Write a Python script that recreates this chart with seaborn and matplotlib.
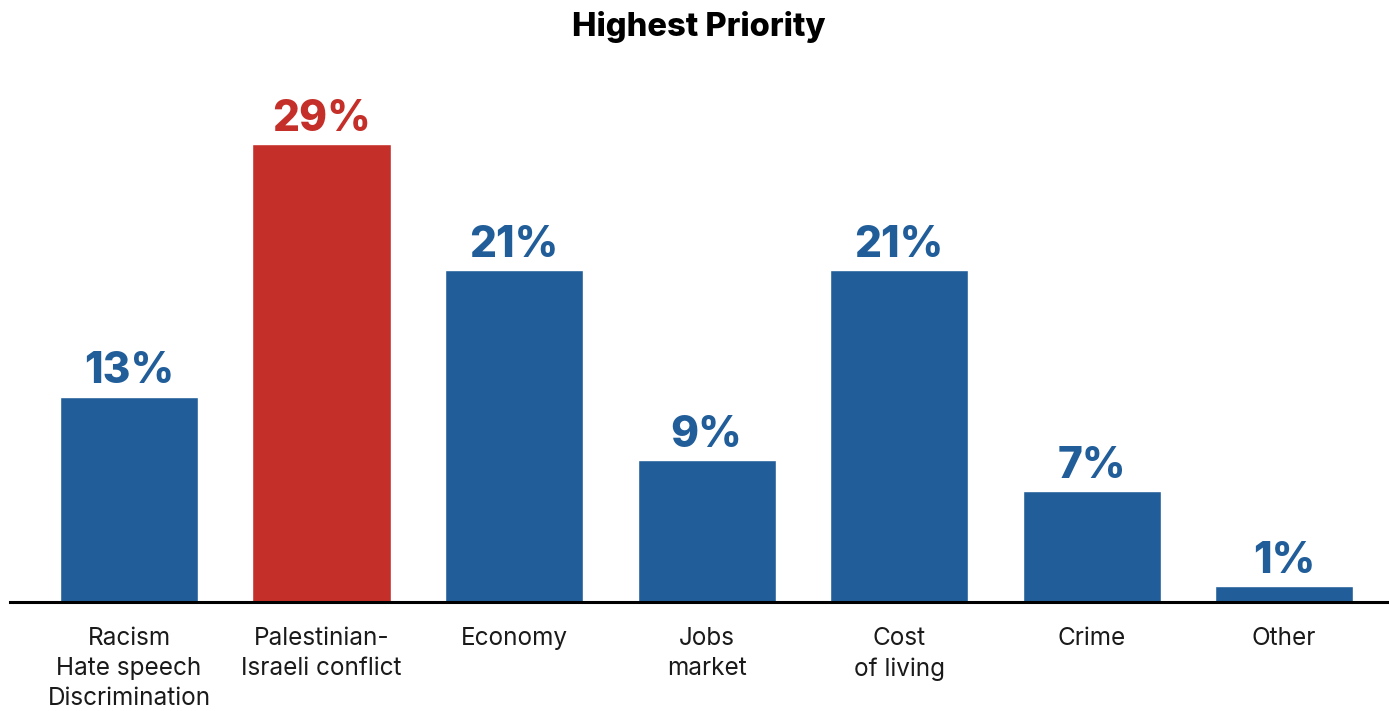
import matplotlib
matplotlib.use('Agg')
import matplotlib.pyplot as plt
import seaborn as sns
import pandas as pd

# dane z wykresu
categories = ['Racism\nHate speech\nDiscrimination', 'Palestinian-\nIsraeli conflict', 'Economy',
              'Jobs\nmarket', 'Cost\nof living', 'Crime', 'Other']
values = [13, 29, 21, 9, 21, 7, 1]
bar_colors = ['#215e99', '#c52f29', '#215e99', '#215e99', '#215e99', '#215e99', '#215e99']

data = pd.DataFrame({'category': categories, 'value': values})

sns.set_style('white')
plt.rcParams['font.family'] = ['Inter', 'DejaVu Sans']

fig = plt.figure(figsize=(13.89, 7.11), dpi=100)
ax = fig.add_axes([10 / 1389, 109 / 711, 1 - 10 / 1389, 474 / 711])

sns.barplot(data, x='category', y='value', hue='category', palette=bar_colors,
            legend=False, width=0.717, saturation=1, ax=ax)

# etykiety nad słupkami
for cont, v, c in zip(ax.containers, values, bar_colors):
    ax.bar_label(cont, labels=[f'{v}%'], color=c, fontsize=30.5, fontweight='heavy', padding=3)

ax.set_xlim(-0.618, 6.545)
ax.set_ylim(0, 30)
ax.set_xlabel('')
ax.set_ylabel('')
ax.set_yticks([])
ax.tick_params(axis='x', length=0, pad=18, labelsize=17.5, labelcolor='#1a1a1a')
for lbl in ax.get_xticklabels():
    lbl.set_linespacing(1.38)
    lbl.set_verticalalignment('top')

for s in ['top', 'right', 'left']:
    ax.spines[s].set_visible(False)
ax.spines['bottom'].set_linewidth(2.2)
ax.spines['bottom'].set_color('black')

fig.text(0.503, 1 - 27 / 711, 'Highest Priority', ha='center', va='center',
         fontsize=23.5, fontweight='heavy', color='black')

fig.savefig('out.png', dpi=100)
